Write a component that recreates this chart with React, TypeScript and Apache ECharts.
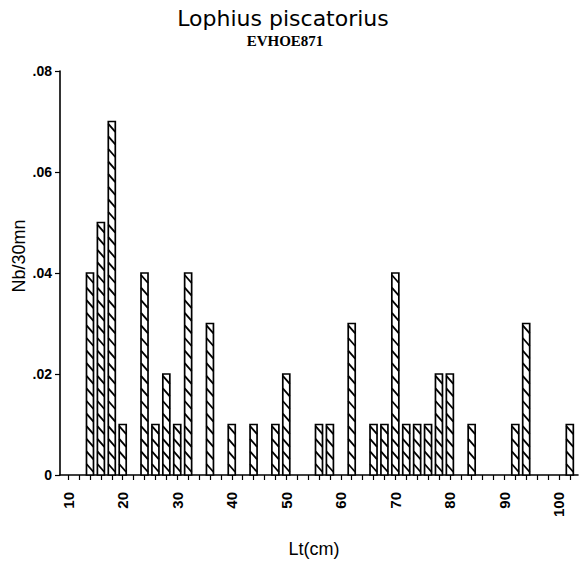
import React, { useEffect, useRef } from "react";
import * as echarts from "echarts";

const lengths = [14, 16, 18, 20, 24, 26, 28, 30, 32, 36, 40, 44, 48, 50, 56, 58, 62, 66, 68, 70, 72, 74, 76, 78, 80, 84, 92, 94, 102];
const values = [0.04, 0.05, 0.07, 0.01, 0.04, 0.01, 0.02, 0.01, 0.04, 0.03, 0.01, 0.01, 0.01, 0.02, 0.01, 0.01, 0.03, 0.01, 0.01, 0.04, 0.01, 0.01, 0.01, 0.02, 0.02, 0.01, 0.01, 0.03, 0.01];
const xTicks = [10, 12, 14, 16, 18, 20, 22, 24, 26, 28, 30, 32, 34, 36, 38, 40, 42, 44, 46, 48, 50, 52, 54, 56, 58, 60, 62, 64, 66, 68, 70, 72, 74, 76, 78, 80, 82, 84, 86, 88, 90, 92, 94, 96, 98, 100, 102];
const xLabels = [10, 20, 30, 40, 50, 60, 70, 80, 90, 100];
const yTicks = [0, 0.02, 0.04, 0.06, 0.08];

const TITLE = "Lophius piscatorius";
const SUBTITLE = "EVHOE871";
const X_NAME = "Lt(cm)";
const Y_NAME = "Nb/30mn";

export default function App() {
  const ref = useRef<HTMLDivElement>(null);
  useEffect(() => {
    if (!ref.current) return;
    const chart = echarts.init(ref.current, null, { renderer: "svg" });
    const data = lengths.map((l, i) => [l, values[i]]);
    const fmtY = (v: number) => (v === 0 ? "0" : v.toFixed(2).replace(/^0/, ""));
    chart.setOption({
      animation: false,
      backgroundColor: "#fff",
      grid: { left: 60, right: 3, top: 71, bottom: 92 },
      xAxis: {
        type: "value",
        min: 8.5,
        max: 103.5,
        splitLine: { show: false },
        axisLine: { show: true, onZero: false, lineStyle: { color: "#000", width: 1.6 } },
        axisTick: { show: true, customValues: xTicks, length: 5, lineStyle: { color: "#000", width: 1.2 } },
        axisLabel: {
          customValues: xLabels,
          rotate: 90,
          margin: 17,
          color: "#000",
          fontSize: 15,
          fontWeight: "bold",
          fontFamily: "Liberation Sans",
        },
      },
      yAxis: {
        type: "value",
        min: 0,
        max: 0.08,
        splitLine: { show: false },
        axisLine: { show: true, lineStyle: { color: "#000", width: 1.6 } },
        axisTick: { show: true, customValues: yTicks, length: 5, lineStyle: { color: "#000", width: 1.2 } },
        axisLabel: {
          customValues: yTicks,
          formatter: fmtY,
          margin: 8,
          color: "#000",
          fontSize: 14,
          fontWeight: "bold",
          fontFamily: "Liberation Sans",
        },
      },
      series: [
        {
          type: "custom",
          encode: { x: 0, y: 1 },
          data,
          renderItem: (params: any, api: any) => {
            const x = api.value(0);
            const v = api.value(1);
            const top = api.coord([x, v]);
            const bot = api.coord([x, 0]);
            const w = 7;
            const l = top[0] - w / 2;
            const r = top[0] + w / 2;
            const children: any[] = [
              {
                type: "rect",
                shape: { x: l, y: top[1], width: w, height: bot[1] - top[1] },
                style: { fill: "#fff", stroke: "#000", lineWidth: 1.7 },
              },
            ];
            const step = 12.6;
            const drop = 8;
            for (let y2 = bot[1] - 3; y2 - drop >= top[1] + 1; y2 -= step) {
              children.push({
                type: "line",
                shape: { x1: l, y1: y2 - drop, x2: r, y2 },
                style: { stroke: "#000", lineWidth: 1.8 },
              });
            }
            return { type: "group", children };
          },
        },
      ],
      graphic: [
        {
          type: "text",
          x: 283,
          y: 18,
          style: {
            text: TITLE,
            align: "center",
            verticalAlign: "middle",
            font: "normal 22px 'DejaVu Sans'",
            fill: "#000",
          },
        },
        {
          type: "text",
          x: 285,
          y: 41,
          style: {
            text: SUBTITLE,
            align: "center",
            verticalAlign: "middle",
            font: "bold 15px 'Liberation Serif'",
            fill: "#000",
          },
        },
        {
          type: "text",
          x: 19,
          y: 256,
          rotation: Math.PI / 2,
          style: {
            text: Y_NAME,
            align: "center",
            verticalAlign: "middle",
            font: "normal 18px 'Liberation Sans'",
            fill: "#000",
          },
        },
        {
          type: "text",
          x: 314,
          y: 549,
          style: {
            text: X_NAME,
            align: "center",
            verticalAlign: "middle",
            font: "normal 18px 'Liberation Sans'",
            fill: "#000",
          },
        },
      ],
    });
    return () => chart.dispose();
  }, []);
  return (
    <div
      ref={ref}
      style={{ position: "absolute", left: 0, top: 0, width: 581, height: 567 }}
    />
  );
}
